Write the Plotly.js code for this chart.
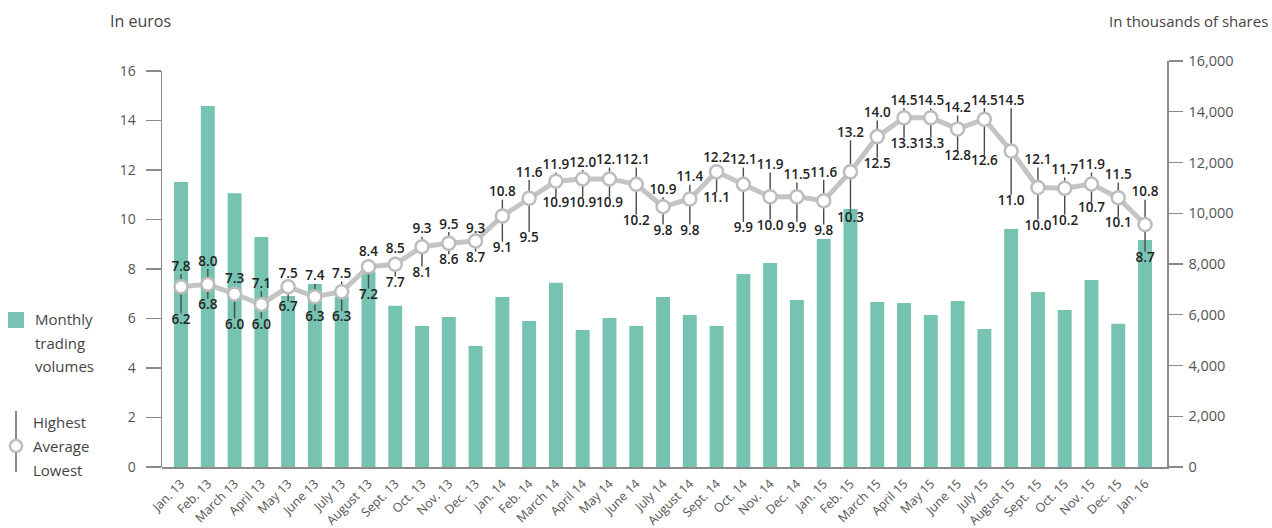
<!DOCTYPE html>
<html>
<head>
<meta charset="utf-8">
<script src="https://cdn.plot.ly/plotly-3.0.1.min.js"></script>
<style>html,body{margin:0;padding:0;background:#fff;}#chart{width:1272px;height:528px;}</style>
</head>
<body>
<div id="chart"></div>
<script>
const months = ["Jan. 13","Feb. 13","March 13","April 13","May 13","June 13","July 13","August 13","Sept. 13","Oct. 13","Nov. 13","Dec. 13","Jan. 14","Feb. 14","March 14","April 14","May 14","June 14","July 14","August 14","Sept. 14","Oct. 14","Nov. 14","Dec. 14","Jan. 15","Feb. 15","March 15","April 15","May 15","June 15","July 15","August 15","Sept. 15","Oct. 15","Nov. 15","Dec. 15","Jan. 16"];
const highest = [7.8,8.0,7.3,7.1,7.5,7.4,7.5,8.4,8.5,9.3,9.5,9.3,10.8,11.6,11.9,12.0,12.1,12.1,10.9,11.4,12.2,12.1,11.9,11.5,11.6,13.2,14.0,14.5,14.5,14.2,14.5,14.5,12.1,11.7,11.9,11.5,10.8];
const lowest = [6.2,6.8,6.0,6.0,6.7,6.3,6.3,7.2,7.7,8.1,8.6,8.7,9.1,9.5,10.9,10.9,10.9,10.2,9.8,9.8,11.1,9.9,10.0,9.9,9.8,10.3,12.5,13.3,13.3,12.8,12.6,11.0,10.0,10.2,10.7,10.1,8.7];
const average = [7.28,7.38,6.99,6.57,7.28,6.88,7.08,8.09,8.19,8.90,9.04,9.13,10.14,10.86,11.55,11.64,11.64,11.42,10.52,10.83,11.93,11.42,10.92,10.92,10.76,11.93,13.35,14.11,14.11,13.66,14.05,12.77,11.29,11.26,11.43,10.88,9.80];
const volumes = [11230,14230,10790,9060,6740,7210,6710,7700,6350,5560,5910,4770,6700,5750,7260,5400,5870,5560,6700,5990,5560,7610,8040,6580,8990,10170,6500,6460,5990,6540,5440,9380,6900,6190,7370,5650,8950];
const euroTicks = [0,2,4,6,8,10,12,14,16];
const shareTicks = [0,2000,4000,6000,8000,10000,12000,14000,16000];
const shareTickLabels = ["0","2,000","4,000","6,000","8,000","10,000","12,000","14,000","16,000"];
const legendBarLines = ["Monthly","trading","volumes"];
const legendRangeLines = ["Highest","Average","Lowest"];

const FONT = "'Open Sans', sans-serif";
const teal = "#76c3b2";
const axisCol = "#8a8a8a";
const fmt = v => v.toFixed(1);

// paper coordinate helpers for legend/title placement (plot area: x 162..1167, y 61..467)
const px = p => (p - 162) / 1005;
const py = p => (467 - p) / 406;

const traces = [
  {
    type: "bar", x: months, y: volumes, xaxis: "x", yaxis: "y",
    marker: {color: teal}, width: 0.52, hoverinfo: "skip"
  },
  {
    type: "scatter", mode: "markers", x: months, y: average, xaxis: "x", yaxis: "y2",
    marker: {size: 1, opacity: 0},
    error_y: {
      type: "data", symmetric: false,
      array: highest.map((h, i) => h - average[i]),
      arrayminus: lowest.map((l, i) => average[i] - l),
      width: 0, thickness: 1.4, color: "#4a4a4a"
    },
    hoverinfo: "skip"
  },
  {
    type: "scatter", mode: "lines+markers", x: months, y: average, xaxis: "x", yaxis: "y2",
    line: {color: "#c4c4c4", width: 5},
    marker: {size: 13, color: "#ffffff", line: {color: "#bdbdbd", width: 2.5}},
    hoverinfo: "skip"
  },
  {
    type: "scatter", mode: "text", x: months, y: highest, xaxis: "x", yaxis: "y2",
    text: highest.map(fmt), textposition: "top center",
    marker: {size: 5, opacity: 0},
    textfont: {family: FONT, size: 13.5, color: "#222222", weight: 600},
    cliponaxis: false, hoverinfo: "skip"
  },
  {
    type: "scatter", mode: "text", x: months, y: lowest, xaxis: "x", yaxis: "y2",
    text: lowest.map(fmt), textposition: "bottom center",
    marker: {size: 14, opacity: 0},
    textfont: {family: FONT, size: 13.5, color: "#222222", weight: 600},
    cliponaxis: false, hoverinfo: "skip"
  }
];

const annotations = [
  {text: "In euros", xref: "paper", yref: "paper", x: px(140), y: py(21), yanchor: "middle", xanchor: "center", showarrow: false, font: {family: FONT, size: 16, color: "#444"}},
  {text: "In thousands of shares", xref: "paper", yref: "paper", x: px(1270), y: py(21), yanchor: "middle", xanchor: "right", showarrow: false, font: {family: FONT, size: 15, color: "#444"}}
];
legendBarLines.forEach((t, i) => annotations.push({
  text: t, xref: "paper", yref: "paper", x: px(33), y: py(319 + i * 23.5), yanchor: "middle", xanchor: "left",
  showarrow: false, font: {family: FONT, size: 15, color: "#444"}
}));
legendRangeLines.forEach((t, i) => annotations.push({
  text: t, xref: "paper", yref: "paper", x: px(31), y: py(422 + i * 24), yanchor: "middle", xanchor: "left",
  showarrow: false, font: {family: FONT, size: 15, color: "#444"}
}));

const layout = {
  width: 1272, height: 528,
  margin: {l: 162, r: 105, t: 61, b: 61},
  paper_bgcolor: "#ffffff", plot_bgcolor: "rgba(0,0,0,0)",
  showlegend: false,
  font: {family: FONT, color: "#555555"},
  xaxis: {
    type: "category", range: [-0.71, 36.82], anchor: "y",
    showline: true, linecolor: axisCol, linewidth: 1.5,
    ticks: "", tickangle: -45, ticklabelstandoff: 3,
    tickfont: {family: FONT, size: 12.5, color: "#555"},
    showgrid: false, zeroline: false, fixedrange: true
  },
  yaxis: {
    domain: [0, 1], range: [0, 16000], side: "right", anchor: "x",
    tickvals: shareTicks, ticktext: shareTickLabels,
    showline: true, linecolor: axisCol, linewidth: 1.5,
    ticks: "outside", ticklen: 14, tickcolor: axisCol, tickwidth: 1.3,
    ticklabelstandoff: 3,
    tickfont: {family: FONT, size: 14.5, color: "#555"},
    showgrid: false, zeroline: false, fixedrange: true
  },
  yaxis2: {
    domain: [0, 396/406], range: [0, 16], side: "left", anchor: "x",
    tickvals: euroTicks,
    showline: true, linecolor: axisCol, linewidth: 1.5,
    ticks: "outside", ticklen: 15, tickcolor: axisCol, tickwidth: 1.3,
    ticklabelstandoff: 7,
    tickfont: {family: FONT, size: 14, color: "#555"},
    showgrid: false, zeroline: false, fixedrange: true
  },
  annotations: annotations,
  shapes: [
    {type: "rect", xref: "paper", yref: "paper", x0: px(8), x1: px(24), y0: py(328), y1: py(312), fillcolor: teal, line: {width: 0}},
    {type: "line", xref: "paper", yref: "paper", x0: px(16), x1: px(16), y0: py(472), y1: py(411), line: {color: "#555", width: 1.4}},
    {type: "circle", xref: "paper", yref: "paper", x0: px(10), x1: px(22), y0: py(452), y1: py(440), fillcolor: "#fff", line: {color: "#bdbdbd", width: 2.5}}
  ]
};

Plotly.newPlot("chart", traces, layout, {displayModeBar: false, staticPlot: true});
</script>
</body>
</html>
